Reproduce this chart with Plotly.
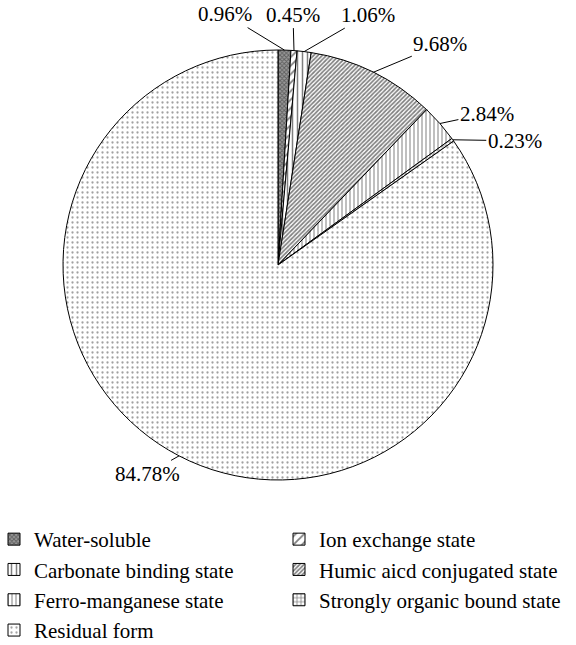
import math
import plotly.graph_objects as go

categories = ["Water-soluble", "Ion exchange state", "Carbonate binding state",
              "Humic aicd conjugated state", "Ferro-manganese state",
              "Strongly organic bound state", "Residual form"]
percent_values = [0.96, 0.45, 1.06, 9.68, 2.84, 0.23, 84.78]

# pattern styling per slice
pat_shapes = ["x", "/", "|", "/", "|", "+", "."]
pat_sizes = [3, 6, 5, 3, 4, 4, 5]
pat_solid = [0.5, 0.3, 0.3, 0.55, 0.25, 0.35, 0.16]
pat_fg = ["#222", "#000", "#000", "#000", "#000", "#000", "#444"]
pat_bg = ["#999", "white", "white", "white", "white", "white", "white"]

# label offsets (px) from slice edge
label_dx = [-59, -1, 64, 67, 47, 62, -32]
label_dy = [-36, -36, -37, -28, -10, 1, 18]

W, H = 576, 645
MB = 126                      # bottom margin that holds the legend
HP = H - MB                   # plot-area height
cx_px, cy_px, r_px = 278, 265, 215
dom_x = [(cx_px - r_px) / W, (cx_px + r_px) / W]
dom_y = [1 - (cy_px + r_px) / HP, 1 - (cy_px - r_px) / HP]

fig = go.Figure()
fig.add_trace(go.Pie(
    labels=categories, values=percent_values, sort=False, direction="clockwise",
    rotation=0, textinfo="none", hoverinfo="label+percent",
    domain=dict(x=dom_x, y=dom_y),
    marker=dict(
        colors=["white"] * len(categories),
        line=dict(color="black", width=1),
        pattern=dict(shape=pat_shapes, size=pat_sizes, solidity=pat_solid,
                     fgcolor=pat_fg, bgcolor=pat_bg, fillmode="overlay"),
    ),
))

# outside labels with leader lines, positioned from the data
total = sum(percent_values)
cum = 0.0
cxp = (dom_x[0] + dom_x[1]) / 2
cyp = (dom_y[0] + dom_y[1]) / 2
rxp = (dom_x[1] - dom_x[0]) / 2
ryp = (dom_y[1] - dom_y[0]) / 2
for v, dx, dy in zip(percent_values, label_dx, label_dy):
    mid = (cum + v / 2) / total * 2 * math.pi
    cum += v
    fig.add_annotation(
        x=cxp + rxp * math.sin(mid), y=cyp + ryp * math.cos(mid),
        xref="paper", yref="paper", text=f"{v:.2f}%",
        showarrow=True, arrowhead=0, arrowwidth=1, arrowcolor="black",
        ax=dx, ay=dy, standoff=0,
        font=dict(family="Liberation Serif", size=21, color="black"),
    )

fig.update_layout(
    width=W, height=H, margin=dict(l=0, r=0, t=0, b=MB, autoexpand=False),
    paper_bgcolor="white", plot_bgcolor="white",
    font=dict(family="Liberation Serif", color="black"),
    showlegend=True,
    legend=dict(orientation="h", x=-6 / W, xanchor="left", y=0, yanchor="top",
                entrywidth=240, entrywidthmode="pixels",
                font=dict(family="Liberation Serif", size=21, color="black"),
                traceorder="normal", itemwidth=30, bgcolor="rgba(0,0,0,0)"),
)

fig.write_html("out.html", config={"displayModeBar": False},
               post_script="document.body.style.margin='0';")
